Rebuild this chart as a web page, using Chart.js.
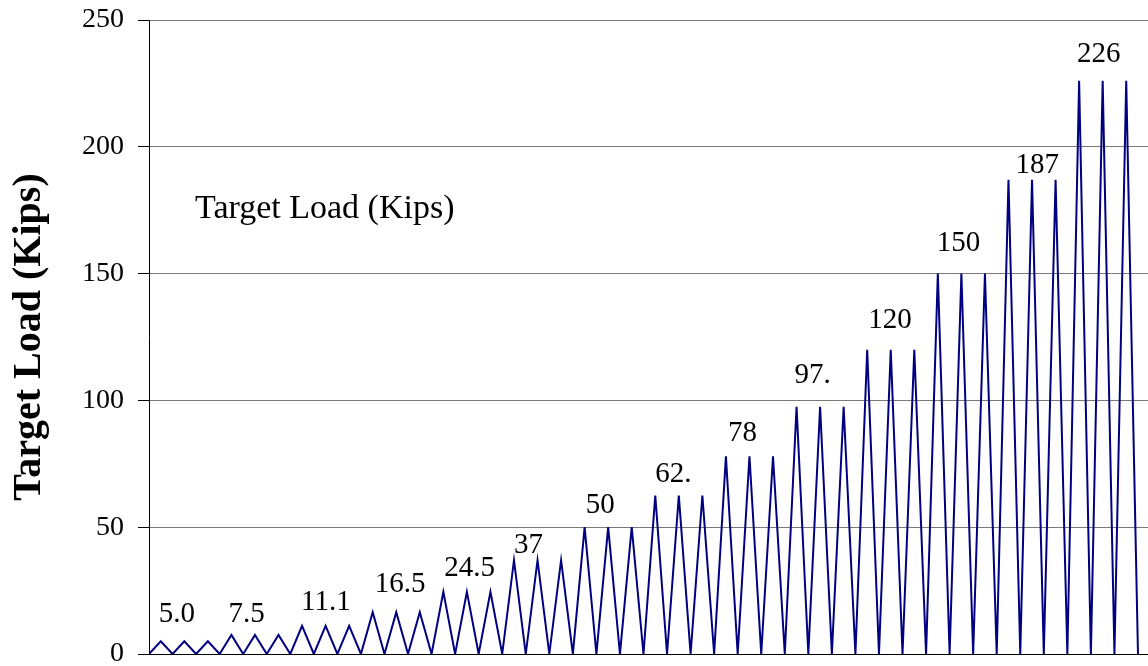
<!DOCTYPE html>
<html><head><meta charset="utf-8">
<script src="https://cdn.jsdelivr.net/npm/chart.js@4/dist/chart.umd.min.js"></script>
<style>html,body{margin:0;padding:0;background:#fff;overflow:hidden}#wrap{position:relative;width:1148px;height:666px}</style>
</head><body><div id="wrap"><canvas id="c"></canvas></div>
<script>
// Target load history: each cycle goes 0 -> peak -> 0, three cycles per load level
const targetLoad = [0,5.0,0,5.0,0,5.0,0,7.5,0,7.5,0,7.5,0,11.1,0,11.1,0,11.1,0,16.5,0,16.5,0,16.5,0,24.5,0,24.5,0,24.5,0,37,0,37,0,37,0,50,0,50,0,50,0,62.5,0,62.5,0,62.5,0,78,0,78,0,78,0,97.5,0,97.5,0,97.5,0,120,0,120,0,120,0,150,0,150,0,150,0,187,0,187,0,187,0,226,0,226,0,226,0];
const groupLabels = ['5.0','7.5','11.1','16.5','24.5','37','50','62.','78','97.','120','150','187','226'];
const yTicks = [0,50,100,150,200,250];
const yTitle = 'Target Load (Kips)';
const noteText = 'Target Load (Kips)';

const SERIF = '"Liberation Serif", "Times New Roman", Times, serif';

const points = targetLoad.map((v,i)=>({x:i, y:v}));

const labelPlugin = {
  id:'groupLabels',
  afterDatasetsDraw(chart, args, opts){
    const {ctx, scales:{x,y}, chartArea} = chart;
    ctx.save();
    ctx.fillStyle = '#000';
    ctx.textAlign = 'left';
    ctx.textBaseline = 'alphabetic';
    ctx.font = '29px ' + SERIF;
    groupLabels.forEach((t,i)=>{
      const firstPeak = 1 + 6*i;
      ctx.fillText(t, x.getPixelForValue(firstPeak) + (opts.dx[i]||0), y.getPixelForValue(opts.baselines[i]));
    });
    ctx.font = '34px ' + SERIF;
    ctx.fillText(noteText, chartArea.left + 46, y.getPixelForValue(opts.noteLevel));
    ctx.restore();
  }
};

new Chart(document.getElementById('c'), {
  type:'line',
  data:{ datasets:[{
    data: points,
    borderColor:'#000080',
    borderWidth:2,
    pointRadius:0,
    tension:0,
    fill:false
  }]},
  options:{
    responsive:true,
    maintainAspectRatio:false,
    animation:false,
    devicePixelRatio:1,
    layout:{padding:{top:20,right:0,bottom:12,left:0}},
    plugins:{
      legend:{display:false},
      tooltip:{enabled:false},
      groupLabels:{
        baselines:[12.6,12.6,17.4,24.3,30.6,39.8,55.6,67.8,84.1,106.7,128.7,159.1,189.7,233.6],
        dx:[-2,-3,-1,2,1,0,1,0,2,-2,1,-1,7,-2],
        noteLevel:172
      }
    },
    scales:{
      x:{
        type:'linear', min:0, max:84.85,
        ticks:{display:false},
        grid:{display:false, drawTicks:false},
        border:{display:true, color:'#000', width:1}
      },
      y:{
        min:0, max:250,
        afterBuildTicks(scale){ scale.ticks = yTicks.map(v=>({value:v})); },
        afterFit(scale){ scale.width = 149; scale.paddingTop = 0; scale.paddingBottom = 0; },
        ticks:{color:'#000', padding:14, font:{family:SERIF, size:28, lineHeight:0.8}},
        grid:{
          color:(c)=> (c.tick && c.tick.value===0) ? '#000' : '#7a7a7a',
          lineWidth:1, tickLength:11, tickColor:'#000', drawTicks:true
        },
        border:{display:true, color:'#000', width:1},
        title:{display:true, text:yTitle, color:'#000',
          font:{family:SERIF, size:40, weight:'bold', lineHeight:1.2},
          padding:{top:6, bottom:14}}
      }
    }
  },
  plugins:[labelPlugin]
});
</script>
</body></html>
